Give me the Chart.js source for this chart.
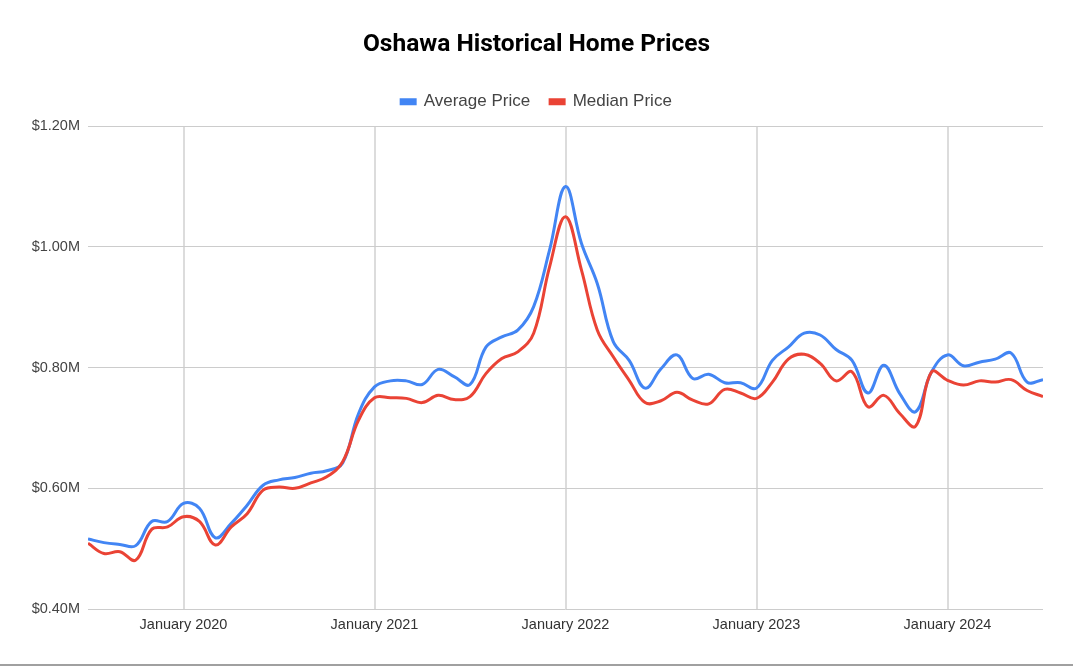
<!DOCTYPE html>
<html>
<head>
<meta charset="utf-8">
<script src="https://cdn.jsdelivr.net/npm/chart.js@4/dist/chart.umd.min.js"></script>
<style>
  html, body { margin: 0; padding: 0; background: #fff; }
  #wrap { position: relative; width: 1073px; height: 667px; overflow: hidden; }
  #bottomLine { position: absolute; left: 0; top: 664px; width: 1073px; height: 0; border-top: 2px solid #a0a0a0; }
</style>
</head>
<body>
<div id="wrap">
  <canvas id="c" width="1073" height="667"></canvas>
  <div id="bottomLine"></div>
</div>
<script>
const months = [
  '2019-07','2019-08','2019-09','2019-10','2019-11','2019-12',
  '2020-01','2020-02','2020-03','2020-04','2020-05','2020-06','2020-07','2020-08','2020-09','2020-10','2020-11','2020-12',
  '2021-01','2021-02','2021-03','2021-04','2021-05','2021-06','2021-07','2021-08','2021-09','2021-10','2021-11','2021-12',
  '2022-01','2022-02','2022-03','2022-04','2022-05','2022-06','2022-07','2022-08','2022-09','2022-10','2022-11','2022-12',
  '2023-01','2023-02','2023-03','2023-04','2023-05','2023-06','2023-07','2023-08','2023-09','2023-10','2023-11','2023-12',
  '2024-01','2024-02','2024-03','2024-04','2024-05','2024-06','2024-07'
];
// values in millions of dollars
const averagePrice = [
  0.516,0.510,0.507,0.505,0.545,0.545,
  0.575,0.567,0.518,0.542,0.572,0.605,0.614,0.618,0.625,0.629,0.642,0.724,
  0.768,0.778,0.778,0.772,0.797,0.785,0.772,0.834,0.851,0.862,0.901,0.995,
  1.100,1.006,0.939,0.843,0.812,0.766,0.798,0.821,0.782,0.789,0.775,0.775,
  0.766,0.812,0.834,0.857,0.854,0.830,0.812,0.758,0.804,0.757,0.727,0.793,
  0.821,0.803,0.809,0.814,0.824,0.776,0.780
];
const medianPrice = [
  0.509,0.492,0.495,0.481,0.532,0.536,
  0.553,0.545,0.506,0.536,0.558,0.597,0.602,0.600,0.609,0.619,0.644,0.713,
  0.750,0.750,0.749,0.742,0.754,0.747,0.752,0.790,0.815,0.826,0.857,0.967,
  1.050,0.962,0.862,0.818,0.779,0.742,0.745,0.759,0.746,0.740,0.764,0.758,
  0.749,0.776,0.814,0.822,0.807,0.778,0.793,0.735,0.754,0.724,0.703,0.793,
  0.779,0.771,0.778,0.776,0.780,0.762,0.752
];
const xTickMonths = ['2020-01','2021-01','2022-01','2023-01','2024-01'];
const xTickLabels = ['January 2020','January 2021','January 2022','January 2023','January 2024'];
const yTickValues = [0.4, 0.6, 0.8, 1.0, 1.2];

const toPoints = arr => arr.map((v, i) => ({ x: i, y: v }));
const xTickIdx = xTickMonths.map(m => months.indexOf(m));
const sansFont = "'Liberation Sans', Arial, sans-serif";

// adds a little room between the legend and the plot area
const legendGap = {
  id: 'legendGap',
  beforeLayout(chart) {
    const lg = chart.legend;
    if (lg && !lg._gapPatched) {
      const origFit = lg.fit;
      lg.fit = function () { origFit.call(this); this.height += 6; };
      lg._gapPatched = true;
    }
  }
};

new Chart(document.getElementById('c'), {
  type: 'line',
  data: {
    datasets: [
      { label: 'Average Price', data: toPoints(averagePrice), borderColor: '#4285F4', backgroundColor: '#4285F4',
        borderWidth: 3, pointRadius: 0, tension: 0.4, order: 2 },
      { label: 'Median Price', data: toPoints(medianPrice), borderColor: '#EA4335', backgroundColor: '#EA4335',
        borderWidth: 3, pointRadius: 0, tension: 0.4, order: 1 }
    ]
  },
  plugins: [legendGap],
  options: {
    responsive: false,
    animation: false,
    devicePixelRatio: 1,
    layout: { padding: { top: 8, right: 30, left: 30, bottom: 0 } },
    plugins: {
      title: {
        display: true,
        text: 'Oshawa Historical Home Prices',
        color: '#000',
        font: { family: 'Roboto, sans-serif', size: 24.5, weight: 'bold' },
        padding: { top: 22.3, bottom: 13.5 }
      },
      legend: {
        display: true,
        labels: {
          color: '#444',
          font: { family: sansFont, size: 17 },
          boxWidth: 14, boxHeight: 4, padding: 20,
          sort: (a, b) => a.datasetIndex - b.datasetIndex
        }
      },
      tooltip: { enabled: false }
    },
    scales: {
      x: {
        type: 'linear',
        min: 0, max: months.length - 1,
        afterBuildTicks: s => { s.ticks = xTickIdx.map(v => ({ value: v })); },
        afterFit: s => { s.height = 58; },
        ticks: {
          autoSkip: false, maxRotation: 0, padding: 7, color: '#333',
          font: { family: sansFont, size: 14.5 },
          callback: v => xTickLabels[xTickIdx.indexOf(v)]
        },
        grid: { color: '#dcdcdc', lineWidth: 2, drawTicks: false },
        border: { display: false }
      },
      y: {
        type: 'linear',
        min: 0.4, max: 1.2,
        afterBuildTicks: s => { s.ticks = yTickValues.map(v => ({ value: v })); },
        afterFit: s => { s.width = 58; },
        ticks: {
          padding: 8, color: '#444',
          font: { family: sansFont, size: 14.5 },
          callback: v => '$' + v.toFixed(2) + 'M'
        },
        grid: { color: '#cccccc', lineWidth: 1, drawTicks: false },
        border: { display: false }
      }
    }
  }
});
</script>
</body>
</html>
